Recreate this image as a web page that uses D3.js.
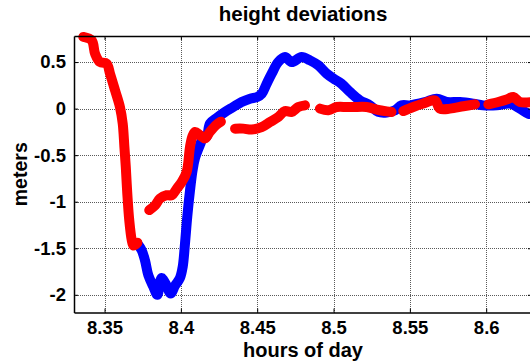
<!DOCTYPE html>
<html>
<head>
<meta charset="utf-8">
<script src="https://cdn.jsdelivr.net/npm/d3@7"></script>
<style>
  html, body { margin: 0; padding: 0; background: #fff; }
  svg { display: block; }
  text { font-family: "Liberation Sans", Arial, sans-serif; font-weight: bold; fill: #000; }
</style>
</head>
<body>
<svg id="chart" width="530" height="362"></svg>
<script>
// Axis ticks
const xTicks = [8.35, 8.4, 8.45, 8.5, 8.55, 8.6];
const yTicks = [0.5, 0, -0.5, -1, -1.5, -2];
const xTickLabels = ["8.35", "8.4", "8.45", "8.5", "8.55", "8.6"];
const yTickLabels = ["0.5", "0", "-0.5", "-1", "-1.5", "-2"];

// Blue series: hours of day / height deviation (m)
const blueHours = [8.3715, 8.3743, 8.3765, 8.3787, 8.3819, 8.3846, 8.3863, 8.3874, 8.3900, 8.3933,
  8.3962, 8.3994, 8.4012, 8.4027, 8.4042, 8.4060, 8.4077, 8.4093, 8.4125, 8.4147, 8.4169, 8.4191,
  8.4235, 8.4289, 8.4343, 8.4398, 8.4453, 8.4500, 8.4530, 8.4562, 8.4595, 8.4638, 8.4682, 8.4726,
  8.4791, 8.4846, 8.4900, 8.4955, 8.5000, 8.5050, 8.5108, 8.5173, 8.5239, 8.5293, 8.5348, 8.5403,
  8.5446, 8.5500, 8.5600, 8.5676, 8.5741, 8.5828, 8.5915, 8.5980, 8.6069, 8.6156, 8.6221, 8.6276, 8.6310];
const blueMeters = [-1.45, -1.52, -1.63, -1.79, -1.91, -2.00, -1.86, -1.82, -1.88, -1.985,
  -1.90, -1.82, -1.70, -1.45, -1.16, -0.877, -0.66, -0.53, -0.39, -0.31, -0.30, -0.16,
  -0.10, -0.036, 0.017, 0.071, 0.107, 0.125, 0.16, 0.268, 0.376, 0.50, 0.554, 0.50,
  0.554, 0.518, 0.465, 0.376, 0.322, 0.27, 0.178, 0.089, 0.035, -0.036, -0.043, -0.018,
  0.035, 0.035, 0.07, 0.107, 0.071, 0.071, 0.054, 0.035, 0.035, 0.054, 0.0, -0.054, -0.06];

// Red series (null marks a gap in the record)
const redHours = [8.3361, 8.3416, 8.3438, 8.3470, 8.3514, 8.3536, 8.3569, 8.3601, 8.3619, 8.3630,
  8.3639, 8.3649, 8.3662, 8.3678, 8.3689, 8.3715, null,
  8.3793, 8.3831, 8.3863, 8.3907, 8.3940, 8.3973, 8.4005, 8.4038, 8.4060, 8.4075, 8.4093, 8.4125,
  8.4158, 8.4190, 8.4235, 8.4262, null,
  8.4355, 8.4409, 8.4464, 8.4529, 8.4584, 8.4638, 8.4682, 8.4726, 8.4769, 8.4813, null,
  8.4911, 8.4966, 8.5021, 8.5086, 8.5130, 8.5217, 8.5283, 8.5348, 8.5380, null,
  8.5457, 8.5522, 8.5588, 8.5664, 8.5697, 8.5763, 8.5850, 8.5927, null,
  8.6014, 8.6079, 8.6134, 8.6178, 8.6221, 8.6300];
const redMeters = [0.77, 0.733, 0.59, 0.50, 0.483, 0.375, 0.196, 0.017, -0.16, -0.41,
  -0.62, -0.91, -1.20, -1.41, -1.47, -1.44, null,
  -1.09, -1.04, -0.966, -0.93, -0.93, -0.86, -0.79, -0.68, -0.41, -0.30, -0.25, -0.286,
  -0.32, -0.25, -0.17, -0.14, null,
  -0.215, -0.215, -0.225, -0.20, -0.144, -0.09, -0.026, -0.036, 0.017, 0.035, null,
  0.0, -0.018, 0.017, 0.017, 0.017, 0.017, -0.01, -0.029, -0.036, null,
  -0.026, 0.017, 0.054, 0.089, 0.0, 0.0, 0.025, 0.046, null,
  0.046, 0.071, 0.097, 0.125, 0.071, 0.071];

const xDomain = [8.33, 8.63];
const yDomain = [-2.19, 0.78];

const svg = d3.select("#chart");
const margin = { left: 74, top: 36 };
const plotW = 458, plotH = 276.5;

const x = d3.scaleLinear().domain(xDomain).range([margin.left, margin.left + plotW]);
const y = d3.scaleLinear().domain(yDomain).range([margin.top + plotH, margin.top]);

// Grid
const grid = svg.append("g").attr("stroke", "#5a5a5a").attr("stroke-width", 1)
  .attr("stroke-dasharray", "1,1").attr("shape-rendering", "crispEdges");
grid.selectAll("line.gx").data(xTicks).join("line").attr("class", "gx")
  .attr("x1", d => Math.round(x(d)) + 0.5).attr("x2", d => Math.round(x(d)) + 0.5)
  .attr("y1", margin.top).attr("y2", margin.top + plotH);
grid.selectAll("line.gy").data(yTicks).join("line").attr("class", "gy")
  .attr("y1", d => Math.round(y(d)) + 0.5).attr("y2", d => Math.round(y(d)) + 0.5)
  .attr("x1", margin.left).attr("x2", margin.left + plotW);

// Series
const clipId = "plotclip";
svg.append("clipPath").attr("id", clipId).append("rect")
  .attr("x", margin.left).attr("y", margin.top - 6).attr("width", plotW).attr("height", plotH + 6);

function series(hours, meters, color) {
  const pts = hours.map((h, i) => [h, meters[i]]);
  const line = d3.line()
    .defined(d => d[0] !== null && d[1] !== null)
    .x(d => x(d[0])).y(d => y(d[1]))
    .curve(d3.curveCatmullRom.alpha(0.5));
  svg.append("path").datum(pts)
    .attr("clip-path", `url(#${clipId})`)
    .attr("fill", "none").attr("stroke", color)
    .attr("stroke-width", 10).attr("stroke-linecap", "round").attr("stroke-linejoin", "round")
    .attr("d", line);
}
series(blueHours, blueMeters, "#0000ff");
series(redHours, redMeters, "#ff0000");

// Axes
const fmtX = d => xTickLabels[xTicks.indexOf(d)];
const fmtY = d => yTickLabels[yTicks.indexOf(d)];

const axB = svg.append("g").attr("transform", `translate(0,${margin.top + plotH})`)
  .call(d3.axisBottom(x).tickValues(xTicks).tickFormat(fmtX).tickSizeInner(-4).tickSizeOuter(0).tickPadding(8));
const axT = svg.append("g").attr("transform", `translate(0,${margin.top})`)
  .call(d3.axisTop(x).tickValues(xTicks).tickFormat("").tickSizeInner(-4).tickSizeOuter(0));
const axL = svg.append("g").attr("transform", `translate(${margin.left},0)`)
  .call(d3.axisLeft(y).tickValues(yTicks).tickFormat(fmtY).tickSizeInner(-4).tickSizeOuter(0).tickPadding(8));
const axR = svg.append("g").attr("transform", `translate(${margin.left + plotW},0)`)
  .call(d3.axisRight(y).tickValues(yTicks).tickFormat("").tickSizeInner(-4).tickSizeOuter(0));

[axB, axT, axL, axR].forEach(a => {
  a.select(".domain").attr("stroke", "#000").attr("stroke-width", 1.5);
  a.selectAll(".tick line").attr("stroke", "#000").attr("stroke-width", 1);
  a.selectAll("text").attr("font-family", "Liberation Sans, Arial, sans-serif")
    .attr("font-weight", "bold").attr("font-size", 18.5).attr("fill", "#000");
});
axB.selectAll(".tick text").attr("dy", "0.71em");

// Titles
svg.append("text").attr("x", x(8.48)).attr("y", 21).attr("text-anchor", "middle")
  .attr("font-size", 20.5).text("height deviations");
svg.append("text").attr("x", x(8.48)).attr("y", 356.5).attr("text-anchor", "middle")
  .attr("font-size", 20).text("hours of day");
svg.append("text").attr("transform", `translate(27,${margin.top + plotH / 2}) rotate(-90)`)
  .attr("text-anchor", "middle").attr("font-size", 19.5).text("meters");
</script>
</body>
</html>
